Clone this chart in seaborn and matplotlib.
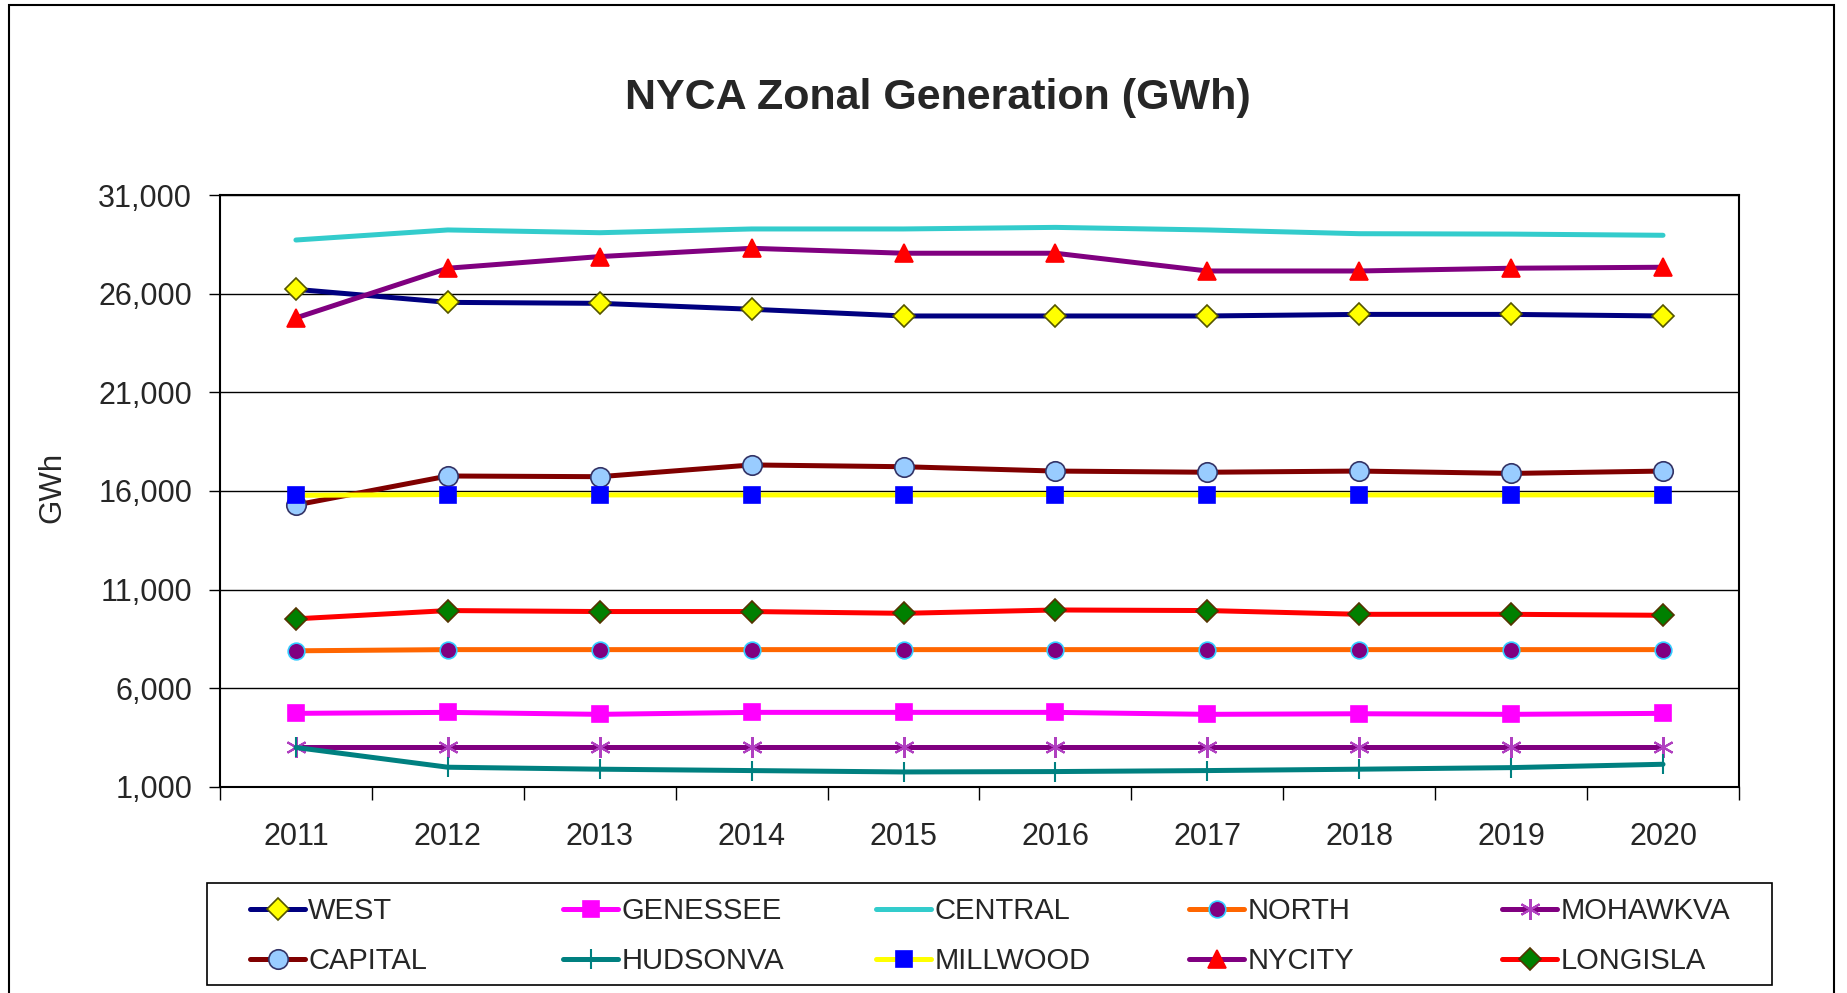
import numpy as np
import pandas as pd
import matplotlib
matplotlib.use("Agg")
import matplotlib.pyplot as plt
import seaborn as sns
from matplotlib.patches import Rectangle
from matplotlib.ticker import FixedLocator, FuncFormatter

# values (GWh)
years = [2011, 2012, 2013, 2014, 2015, 2016, 2017, 2018, 2019, 2020]
west = [26220, 25560, 25510, 25210, 24870, 24870, 24870, 24950, 24950, 24870]
genessee = [4730, 4780, 4680, 4780, 4780, 4780, 4680, 4710, 4680, 4730]
central = [28720, 29230, 29090, 29280, 29280, 29360, 29230, 29040, 29020, 28960]
north = [7900, 7960, 7960, 7960, 7960, 7960, 7960, 7960, 7960, 7960]
mohawkva = [3000, 3000, 3000, 3000, 3000, 3000, 3000, 3000, 3000, 3000]
capital = [15290, 16760, 16725, 17320, 17230, 17010, 16950, 17010, 16890, 17010]
hudsonva = [3000, 2000, 1900, 1830, 1760, 1780, 1830, 1900, 1980, 2150]
millwood = [15780, 15820, 15800, 15800, 15800, 15820, 15800, 15800, 15800, 15810]
nycity = [24770, 27290, 27880, 28300, 28050, 28050, 27150, 27150, 27290, 27340]
longisla = [9520, 9940, 9890, 9890, 9800, 9970, 9940, 9750, 9750, 9700]

zones = ["WEST", "GENESSEE", "CENTRAL", "NORTH", "MOHAWKVA",
         "CAPITAL", "HUDSONVA", "MILLWOOD", "NYCITY", "LONGISLA"]
values = [west, genessee, central, north, mohawkva,
          capital, hudsonva, millwood, nycity, longisla]

# line colour, marker, marker face, marker edge, marker size
styles = {
    "WEST": ("#000080", "D", "#FFFF00", "#555500", 11),
    "GENESSEE": ("#FF00FF", "s", "#FF00FF", "#FF00FF", 11),
    "CENTRAL": ("#33CCCC", None, None, None, 0),
    "NORTH": ("#FF6600", "o", "#800080", "#33CCFF", 12),
    "MOHAWKVA": ("#800080", (6, 2, 0), "#B040C0", "#B040C0", 15),
    "CAPITAL": ("#800000", "o", "#99CCFF", "#333366", 14),
    "HUDSONVA": ("#008080", "|", "#008080", "#008080", 14),
    "MILLWOOD": ("#FFFF00", "s", "#0000FF", "#0000FF", 11),
    "NYCITY": ("#800080", "^", "#FF0000", "#FF0000", 13),
    "LONGISLA": ("#FF0000", "D", "#008000", "#553300", 11),
}

sns.set_style("white")
plt.rcParams["font.family"] = ["Liberation Sans", "DejaVu Sans"]

fig = plt.figure(figsize=(18.47, 9.93), dpi=100)
ax = fig.add_axes([0.1191, 0.2075, 0.8224, 0.5961])

handles = {}
for zone, vals in zip(zones, values):
    color, marker, face, edge, ms = styles[zone]
    df = pd.DataFrame({"year": years, "gwh": vals})
    kw = dict(color=color, linewidth=3.6, errorbar=None)
    if marker is not None:
        kw.update(marker=marker, markersize=ms, markerfacecolor=face,
                  markeredgecolor=edge, markeredgewidth=1.2)
        if marker in ("|", (6, 2, 0)):
            kw["markeredgewidth"] = 1.5
    sns.lineplot(data=df, x="year", y="gwh", ax=ax, label=zone, **kw)
    handles[zone] = ax.get_lines()[-1]
ax.get_legend().remove()

ax.set_xlim(2010.5, 2020.5)
ax.set_ylim(1000, 31000)
ax.set_xticks(years)
ax.set_xticklabels([str(y) for y in years])
ax.xaxis.set_minor_locator(FixedLocator(np.arange(2010.5, 2021, 1.0)))
ax.tick_params(axis="x", which="major", length=0, pad=25, labelsize=22)
ax.tick_params(axis="x", which="minor", length=9, width=1, direction="out", color="black", bottom=True)
ax.set_yticks([1000, 6000, 11000, 16000, 21000, 26000, 31000])
ax.yaxis.set_major_formatter(FuncFormatter(lambda v, p: f"{int(v):,}"))
ax.tick_params(axis="y", length=8, width=1, direction="out", color="black", left=True, labelsize=22, pad=12)
ax.grid(axis="y", color="black", linewidth=1)
ax.set_axisbelow(True)
for s in ax.spines.values():
    s.set_color("black")
    s.set_linewidth(1.5)

ax.set_xlabel("")
ax.set_ylabel("GWh", fontsize=22.5)
ax.yaxis.set_label_coords(-0.1007, 0.506)

fig.text(0.508, 0.8902, "NYCA Zonal Generation (GWh)", ha="center", va="baseline",
         fontsize=31, fontweight="bold")

# legend: box plus one two-row column per slot, laid out like the original
fig.patches.append(Rectangle((0.1121, 0.00806), 0.8473, 0.1027, transform=fig.transFigure,
                             fill=False, edgecolor="black", linewidth=1.2))
columns = [("WEST", "CAPITAL"), ("GENESSEE", "HUDSONVA"), ("CENTRAL", "MILLWOOD"),
           ("NORTH", "NYCITY"), ("MOHAWKVA", "LONGISLA")]
col_x = [250, 563, 876, 1189, 1502]
for names, x in zip(columns, col_x):
    fig.legend([handles[n] for n in names], list(names), loc="center left",
               bbox_to_anchor=(x / 1847, 1 - 936 / 993), fontsize=21, frameon=False,
               handlelength=1.9, handletextpad=0.1, labelspacing=0.74,
               borderpad=0, borderaxespad=0)

fig.patches.append(Rectangle((9 / 1847, -0.02), 1825 / 1847, 1.02 - 5 / 993,
                             transform=fig.transFigure, fill=False,
                             edgecolor="black", linewidth=1.5))

fig.savefig("out.png", dpi=100)
